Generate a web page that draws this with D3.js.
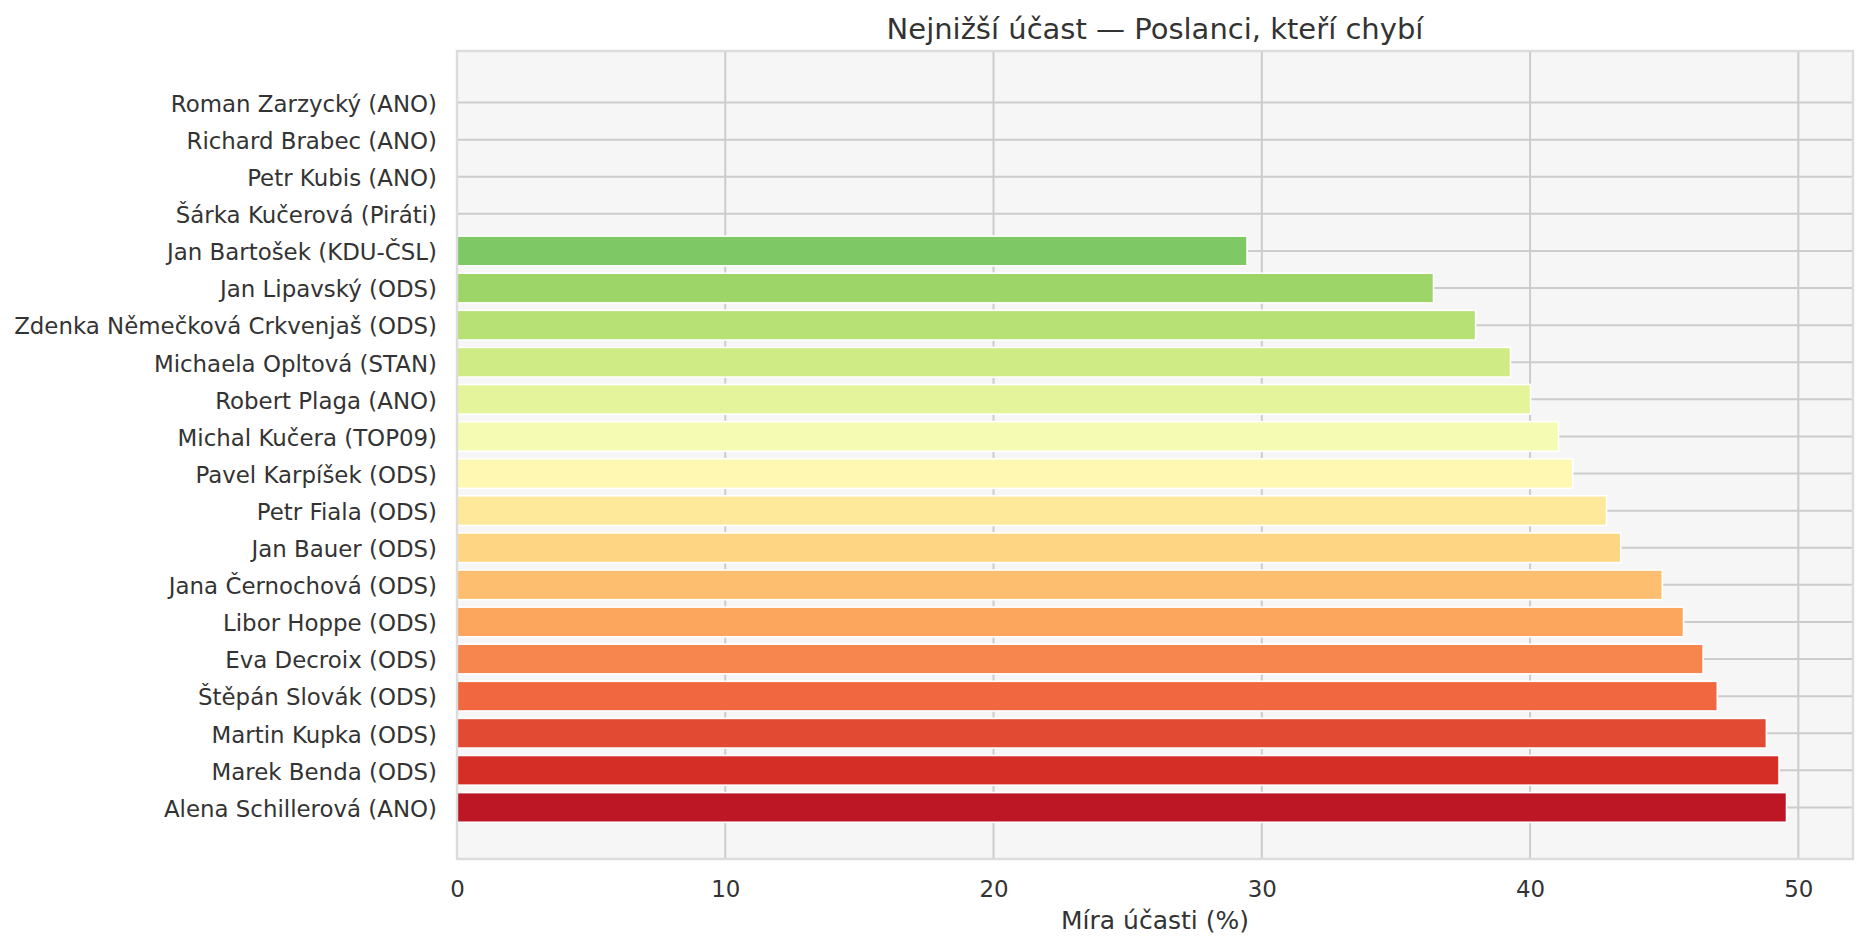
<!DOCTYPE html>
<html>
<head>
<meta charset="utf-8">
<script src="https://cdn.jsdelivr.net/npm/d3@7/dist/d3.min.js"></script>
<style>
  html, body { margin: 0; padding: 0; background: #ffffff; }
  svg { display: block; font-family: "DejaVu Sans", sans-serif; }
</style>
</head>
<body>
<svg id="chart" width="1867" height="949"></svg>
<script>
// Categories listed top to bottom
const names = [
  "Roman Zarzycký (ANO)",
  "Richard Brabec (ANO)",
  "Petr Kubis (ANO)",
  "Šárka Kučerová (Piráti)",
  "Jan Bartošek (KDU-ČSL)",
  "Jan Lipavský (ODS)",
  "Zdenka Němečková Crkvenjaš (ODS)",
  "Michaela Opltová (STAN)",
  "Robert Plaga (ANO)",
  "Michal Kučera (TOP09)",
  "Pavel Karpíšek (ODS)",
  "Petr Fiala (ODS)",
  "Jan Bauer (ODS)",
  "Jana Černochová (ODS)",
  "Libor Hoppe (ODS)",
  "Eva Decroix (ODS)",
  "Štěpán Slovák (ODS)",
  "Martin Kupka (ODS)",
  "Marek Benda (ODS)",
  "Alena Schillerová (ANO)"
];
// Attendance rate (%)
const values = [
  0, 0, 0, 0,
  29.45, 36.40, 37.97, 39.27, 40.02, 41.06,
  41.59, 42.85, 43.38, 44.93, 45.72, 46.45,
  46.98, 48.81, 49.28, 49.56
];
const xTicks = [0, 10, 20, 30, 40, 50];
// RdYlGn colormap control colours
const rdylgn = ["#a50026","#d73027","#f46d43","#fdae61","#fee08b","#ffffbf",
                "#d9ef8b","#a6d96a","#66bd63","#1a9850","#006837"];
const titleText = "Nejnižší účast — Poslanci, kteří chybí";
const xLabelText = "Míra účasti (%)";

(function () {
const svg = d3.select("#chart");
const mL = 457, mR = 1853, mT = 51, mB = 859;

const x = d3.scaleLinear()
  .domain([0, d3.max(values) * 1.05])
  .range([mL, mR]);

const y = d3.scaleBand()
  .domain(names)
  .range([mT, mB])
  .paddingInner(0.2)
  .paddingOuter(0.99);

const cmap = d3.scaleLinear()
  .domain(d3.range(rdylgn.length).map(i => i / (rdylgn.length - 1)))
  .range(rdylgn)
  .interpolate(d3.interpolateRgb);
const n = names.length;
const colorOf = i => cmap((n - i) / (n + 1));

// plot background
svg.append("rect")
  .attr("x", mL).attr("y", mT)
  .attr("width", mR - mL).attr("height", mB - mT)
  .attr("fill", "#f6f6f6");

// vertical grid
svg.append("g")
  .selectAll("line")
  .data(xTicks)
  .join("line")
  .attr("x1", d => x(d)).attr("x2", d => x(d))
  .attr("y1", mT).attr("y2", mB)
  .attr("stroke", "#cccccc").attr("stroke-width", 2);

// horizontal grid
svg.append("g")
  .selectAll("line")
  .data(names)
  .join("line")
  .attr("x1", mL).attr("x2", mR)
  .attr("y1", d => y(d) + y.bandwidth() / 2)
  .attr("y2", d => y(d) + y.bandwidth() / 2)
  .attr("stroke", "#cccccc").attr("stroke-width", 2);

// bars
const barData = names.map((name, i) => ({ name, value: values[i], i }))
  .filter(d => d.value > 0);
svg.append("g")
  .selectAll("rect")
  .data(barData)
  .join("rect")
  .attr("x", x(0))
  .attr("y", d => y(d.name))
  .attr("width", d => x(d.value) - x(0))
  .attr("height", y.bandwidth())
  .attr("fill", d => colorOf(d.i))
  .attr("stroke", "#ffffff")
  .attr("stroke-width", 1.6);

// frame
svg.append("rect")
  .attr("x", mL).attr("y", mT)
  .attr("width", mR - mL).attr("height", mB - mT)
  .attr("fill", "none")
  .attr("stroke", "#dcdcdc").attr("stroke-width", 2.4);

// x axis
const xAxis = d3.axisBottom(x).tickValues(xTicks).tickSize(0).tickPadding(22)
  .tickFormat(d3.format("d"));
const gx = svg.append("g").attr("transform", `translate(0,${mB})`).call(xAxis);
gx.select(".domain").remove();
gx.selectAll("text")
  .attr("font-size", "22.9px")
  .attr("font-family", "DejaVu Sans, sans-serif")
  .attr("fill", "#333333");

// y axis
const yAxis = d3.axisLeft(y).tickSize(0).tickPadding(20);
const gy = svg.append("g").attr("transform", `translate(${mL},2)`).call(yAxis);
gy.select(".domain").remove();
gy.selectAll("text")
  .attr("font-size", "22.9px")
  .attr("font-family", "DejaVu Sans, sans-serif")
  .attr("fill", "#333333");

// title
svg.append("text")
  .attr("x", (mL + mR) / 2)
  .attr("y", 39)
  .attr("text-anchor", "middle")
  .attr("font-size", "29px")
  .attr("fill", "#333333")
  .text(titleText);

// x label
svg.append("text")
  .attr("x", (mL + mR) / 2)
  .attr("y", 929)
  .attr("text-anchor", "middle")
  .attr("font-size", "25px")
  .attr("fill", "#333333")
  .text(xLabelText);
})();
</script>
</body>
</html>
